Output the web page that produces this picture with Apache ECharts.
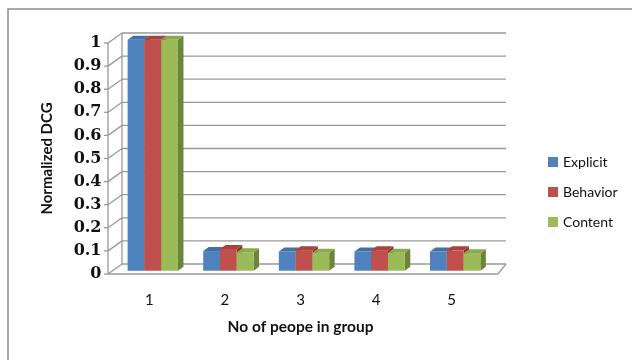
<!DOCTYPE html>
<html>
<head>
<meta charset="utf-8">
<script src="https://cdn.jsdelivr.net/npm/echarts@6/dist/echarts.min.js"></script>
<style>html,body{margin:0;padding:0;background:#fff;}#c{width:632px;height:360px;}</style>
</head>
<body>
<div id="c"></div>
<script>
var categories = ['1', '2', '3', '4', '5'];
var explicit = [1, 0.085, 0.083, 0.083, 0.083];
var behavior = [1, 0.094, 0.089, 0.089, 0.088];
var content = [1, 0.080, 0.078, 0.078, 0.076];
var yTicks = [0, 0.1, 0.2, 0.3, 0.4, 0.5, 0.6, 0.7, 0.8, 0.9, 1];

var seriesDefs = [
  {name: 'Explicit', data: explicit, front: '#4F81BD', top: '#4271A8', side: '#375C88'},
  {name: 'Behavior', data: behavior, front: '#C0504D', top: '#A84340', side: '#8A3532'},
  {name: 'Content', data: content, front: '#9BBB59', top: '#8BAA4D', side: '#6B863A'}
];

var chart = echarts.init(document.getElementById('c'));

function wallRender(params, api) {
  var cs = params.coordSys;
  var v = api.value(1);
  var y = api.coord([0, v])[1];
  var yTop = api.coord([0, yTicks[yTicks.length - 1]])[1];
  var yBot = api.coord([0, yTicks[0]])[1];
  var FL = cs.x - 3.5, FR = cs.x + cs.width + 8.5;
  var BL = cs.x + 10.5, BR = cs.x + cs.width + 16.5;
  var DY = -10;
  var st = {stroke: '#999999', lineWidth: 1.3};
  var ch = [];
  ch.push({type: 'line', shape: {x1: FL, y1: y, x2: BL, y2: y + DY}, style: st});
  ch.push({type: 'line', shape: {x1: BL, y1: y + DY, x2: BR, y2: y + DY}, style: st});
  ch.push({type: 'line', shape: {x1: FL - 4, y1: y, x2: FL, y2: y}, style: st});
  if (params.dataIndex === 0) {
    ch.push({type: 'line', shape: {x1: FL, y1: y, x2: FR, y2: y}, style: st});
    ch.push({type: 'line', shape: {x1: FR, y1: y, x2: BR, y2: y + DY}, style: st});
    ch.push({type: 'line', shape: {x1: FL, y1: yBot, x2: FL, y2: yTop}, style: st});
    ch.push({type: 'line', shape: {x1: BL, y1: yBot + DY, x2: BL, y2: yTop + DY}, style: st});
  }
  return {type: 'group', children: ch};
}

function makeBarRender(k, def) {
  return function (params, api) {
    var i = api.value(0);
    var val = api.value(1);
    var p0 = api.coord([i, 0]);
    var p1 = api.coord([i, val]);
    var band = api.size([1, 0])[0];
    var bw = band * 0.222;
    var x0 = p0[0] - 1.5 * bw + k * bw + 3.5;
    var yb = p0[1] - 3.3;
    var yt = p1[1] - 3.3;
    var dx = 5.5, dy = -4;
    return {
      type: 'group',
      children: [
        {type: 'polygon', shape: {points: [[x0 + bw, yt], [x0 + bw + dx, yt + dy], [x0 + bw + dx, yb + dy], [x0 + bw, yb]]}, style: {fill: def.side}},
        {type: 'rect', shape: {x: x0, y: yt, width: bw, height: yb - yt}, style: {fill: def.front}},
        {type: 'polygon', shape: {points: [[x0, yt], [x0 + bw, yt], [x0 + bw + dx, yt + dy], [x0 + dx, yt + dy]]}, style: {fill: def.top}}
      ]
    };
  };
}

var series = [{
  type: 'custom',
  name: 'walls',
  renderItem: wallRender,
  data: yTicks.map(function (v) { return [0, v]; }),
  encode: {x: 0, y: 1},
  silent: true,
  z: 1
}];
seriesDefs.forEach(function (def, k) {
  series.push({
    type: 'custom',
    name: def.name,
    renderItem: makeBarRender(k, def),
    data: def.data.map(function (v, i) { return [i, v]; }),
    encode: {x: 0, y: 1},
    itemStyle: {color: def.front},
    z: 2 + k
  });
});

chart.setOption({
  animation: false,
  backgroundColor: '#fff',
  graphic: [{
    type: 'rect',
    shape: {x: 8, y: 9, width: 700, height: 400},
    style: {fill: 'none', stroke: '#8c8c8c', lineWidth: 1.5},
    silent: true
  }],
  grid: {left: 111.5, right: 142.5, top: 43, bottom: 86},
  legend: {
    data: ['Explicit', 'Behavior', 'Content'],
    orient: 'vertical',
    left: 543,
    top: 150,
    itemWidth: 10,
    itemHeight: 10,
    itemGap: 16,
    icon: 'rect',
    textStyle: {fontFamily: 'Lato', fontSize: 14, color: '#111', lineHeight: 14}
  },
  xAxis: {
    type: 'category',
    data: categories,
    name: 'No of peope in group',
    nameLocation: 'middle',
    nameGap: 45,
    nameTextStyle: {fontFamily: 'Lato', fontSize: 15.5, fontWeight: 'bold', color: '#111'},
    axisLine: {show: false},
    axisTick: {show: false},
    axisLabel: {margin: 19, fontFamily: 'Lato', fontSize: 15, color: '#111'},
    splitLine: {show: false}
  },
  yAxis: {
    type: 'value',
    min: 0,
    max: 1,
    interval: 0.1,
    name: 'Normalized DCG',
    nameLocation: 'middle',
    nameGap: 57,
    nameTextStyle: {fontFamily: 'Lato', fontSize: 15, fontWeight: 'bold', color: '#111'},
    axisLine: {show: false},
    axisTick: {show: false},
    splitLine: {show: false},
    axisLabel: {
      margin: 10,
      fontFamily: 'DejaVu Serif',
      fontSize: 16,
      fontWeight: 'bold',
      color: '#111',
      formatter: function (v) { return String(Math.round(v * 10) / 10); }
    }
  },
  series: series
});
</script>
</body>
</html>
